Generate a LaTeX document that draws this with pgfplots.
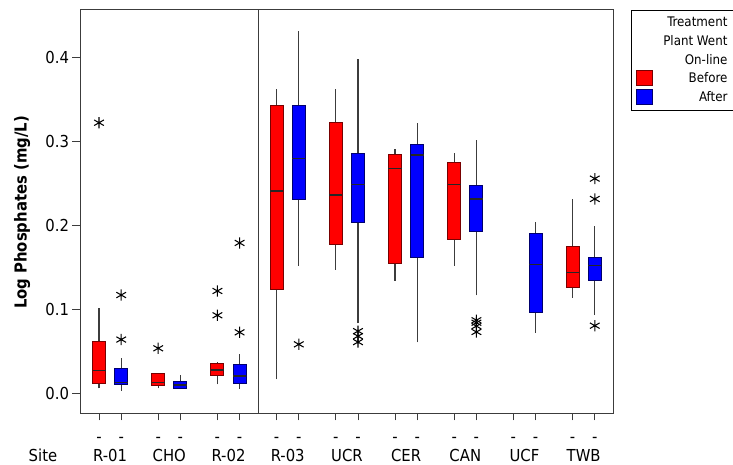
\documentclass[border=0pt]{standalone}
\usepackage{pgfplots}
\pgfplotsset{compat=1.18}
\usepackage{fontspec}
\setmainfont{DejaVu Sans Condensed}
\definecolor{redline}{RGB}{120,0,0}
\definecolor{blueline}{RGB}{0,0,110}
\definecolor{framec}{RGB}{60,60,60}
\pgfplotsset{
  whisk/.style={forget plot, no markers, draw=framec, line width=1.2bp},
  rbox/.style={forget plot, no markers, fill=red, draw=redline, line width=0.9bp},
  bbox/.style={forget plot, no markers, fill=blue, draw=blueline, line width=0.9bp},
  med/.style={forget plot, no markers, draw=black!85, line width=1.2bp},
  outl/.style={forget plot, only marks, mark=asterisk, mark size=5.6bp, mark options={black, line width=1.05bp}},
}
\begin{document}
\begin{tikzpicture}
\path[use as bounding box] (0bp,0bp) rectangle (733bp,465bp);
\begin{axis}[
  at={(80bp,52bp)}, anchor=south west,
  scale only axis, width=533bp, height=403.7bp,
  xmin=-2.57, xmax=69.46, ymin=-0.0234, ymax=0.457,
  axis line style={draw=framec, line width=1bp},
  tick align=outside, tick pos=left,
  major tick length=7.5bp,
  tick style={draw=framec, line width=1bp},
  /pgf/number format/assume math mode=true,
  ytick={0,0.1,0.2,0.3,0.4},
  yticklabel style={/pgf/number format/fixed, /pgf/number format/fixed zerofill,
    /pgf/number format/precision=1, font=\fontsize{16.5bp}{19bp}\selectfont},
  xtick={0,3,8,11,16,19,24,27,32,35,40,43,48,51,56,59,64,67},
  xticklabels={-,-,-,-,-,-,-,-,-,-,-,-,-,-,-,-,-,-},
  xticklabel style={anchor=center, yshift=-19bp, font=\fontsize{16.5bp}{19bp}\selectfont},
  extra x ticks={1.5,9.5,17.5,25.5,33.5,41.5,49.5,57.5,65.5},
  extra x tick labels={R-01,CHO,R-02,R-03,UCR,CER,CAN,UCF,TWB},
  extra x tick style={major tick length=0pt, tick style={draw=none},
    xticklabel style={anchor=base, yshift=-29.7bp}},
  ylabel={\bfseries Log Phosphates (mg/L)},
  ylabel style={at={(axis description cs:-0.1088,0.4966)}, anchor=center,
    font=\fontsize{16.5bp}{19bp}\selectfont},
  legend style={at={(axis description cs:1.0338,0.9983)}, anchor=north west,
    draw=black, line width=0.8bp, font=\fontsize{13.2bp}{15bp}\selectfont,
    row sep=3bp, column sep=8bp, inner xsep=4.5bp, inner ysep=5bp},
  legend cell align=right,
  clip=false,
]
\addlegendimage{empty legend}\addlegendentry{Treatment}
\addlegendimage{empty legend}\addlegendentry{Plant Went}
\addlegendimage{empty legend}\addlegendentry{On-line}
\addlegendimage{legend image code/.code={\draw[fill=red,draw=redline,line width=0.9bp] (0bp,-7.5bp) rectangle (16.5bp,7.5bp);}}\addlegendentry{Before}
\addlegendimage{legend image code/.code={\draw[fill=blue,draw=blueline,line width=0.9bp] (0bp,-7.5bp) rectangle (16.5bp,7.5bp);}}\addlegendentry{After}

\draw[draw=framec, line width=1bp] (axis cs:21.5,-0.0234) -- (axis cs:21.5,0.457);

% R-01 before (x=0)
\addplot[whisk] coordinates {(0,0.006) (0,0.101)};
\addplot[rbox] coordinates {(-0.88,0.0119) (0.88,0.0119) (0.88,0.0614) (-0.88,0.0614)} -- cycle;
\addplot[med] coordinates {(-0.88,0.0269) (0.88,0.0269)};
\addplot[outl] coordinates {(0,0.322)};
% R-01 after (x=3)
\addplot[whisk] coordinates {(3,0.003) (3,0.0425)};
\addplot[bbox] coordinates {(2.12,0.0107) (3.88,0.0107) (3.88,0.0298) (2.12,0.0298)} -- cycle;
\addplot[med] coordinates {(2.12,0.0125) (3.88,0.0125)};
\addplot[outl] coordinates {(3,0.117) (3,0.064)};
% CHO before (x=8)
\addplot[whisk] coordinates {(8,0.006) (8,0.0238)};
\addplot[rbox] coordinates {(7.12,0.009) (8.88,0.009) (8.88,0.0238) (7.12,0.0238)} -- cycle;
\addplot[med] coordinates {(7.12,0.0126) (8.88,0.0126)};
\addplot[outl] coordinates {(8,0.0536)};
% CHO after (x=11)
\addplot[whisk] coordinates {(11,0.005) (11,0.0222)};
\addplot[bbox] coordinates {(10.12,0.0055) (11.88,0.0055) (11.88,0.0142) (10.12,0.0142)} -- cycle;
\addplot[med] coordinates {(10.12,0.0099) (11.88,0.0099)};
% R-02 before (x=16)
\addplot[whisk] coordinates {(16,0.0107) (16,0.0376)};
\addplot[rbox] coordinates {(15.12,0.0214) (16.88,0.0214) (16.88,0.036) (15.12,0.036)} -- cycle;
\addplot[med] coordinates {(15.12,0.0277) (16.88,0.0277)};
\addplot[outl] coordinates {(16,0.1218) (16,0.0929)};
% R-02 after (x=19)
\addplot[whisk] coordinates {(19,0.0055) (19,0.0464)};
\addplot[bbox] coordinates {(18.12,0.0119) (19.88,0.0119) (19.88,0.0345) (18.12,0.0345)} -- cycle;
\addplot[med] coordinates {(18.12,0.0206) (19.88,0.0206)};
\addplot[outl] coordinates {(19,0.179) (19,0.0726)};
% R-03 before (x=24)
\addplot[whisk] coordinates {(24,0.0167) (24,0.362)};
\addplot[rbox] coordinates {(23.12,0.1233) (24.88,0.1233) (24.88,0.3424) (23.12,0.3424)} -- cycle;
\addplot[med] coordinates {(23.12,0.2408) (24.88,0.2408)};
% R-03 after (x=27)
\addplot[whisk] coordinates {(27,0.152) (27,0.4317)};
\addplot[bbox] coordinates {(26.12,0.231) (27.88,0.231) (27.88,0.342) (26.12,0.342)} -- cycle;
\addplot[med] coordinates {(26.12,0.279) (27.88,0.279)};
\addplot[outl] coordinates {(27,0.0583)};
% UCR before (x=32)
\addplot[whisk] coordinates {(32,0.1468) (32,0.362)};
\addplot[rbox] coordinates {(31.12,0.1774) (32.88,0.1774) (32.88,0.3218) (31.12,0.3218)} -- cycle;
\addplot[med] coordinates {(31.12,0.236) (32.88,0.236)};
% UCR after (x=35)
\addplot[whisk] coordinates {(35,0.0833) (35,0.3984)};
\addplot[bbox] coordinates {(34.12,0.2039) (35.88,0.2039) (35.88,0.2853) (34.12,0.2853)} -- cycle;
\addplot[med] coordinates {(34.12,0.2488) (35.88,0.2488)};
\addplot[outl] coordinates {(35,0.074) (35,0.068) (35,0.061)};
% CER before (x=40)
\addplot[whisk] coordinates {(40,0.134) (40,0.2908)};
\addplot[rbox] coordinates {(39.12,0.1548) (40.88,0.1548) (40.88,0.2837) (39.12,0.2837)} -- cycle;
\addplot[med] coordinates {(39.12,0.2679) (40.88,0.2679)};
% CER after (x=43)
\addplot[whisk] coordinates {(43,0.0607) (43,0.3222)};
\addplot[bbox] coordinates {(42.12,0.1614) (43.88,0.1614) (43.88,0.2964) (42.12,0.2964)} -- cycle;
\addplot[med] coordinates {(42.12,0.2837) (43.88,0.2837)};
% CAN before (x=48)
\addplot[whisk] coordinates {(48,0.152) (48,0.2857)};
\addplot[rbox] coordinates {(47.12,0.1837) (48.88,0.1837) (48.88,0.2742) (47.12,0.2742)} -- cycle;
\addplot[med] coordinates {(47.12,0.2488) (48.88,0.2488)};
% CAN after (x=51)
\addplot[whisk] coordinates {(51,0.1167) (51,0.3016)};
\addplot[bbox] coordinates {(50.12,0.1932) (51.88,0.1932) (51.88,0.2476) (50.12,0.2476)} -- cycle;
\addplot[med] coordinates {(50.12,0.2313) (51.88,0.2313)};
\addplot[outl] coordinates {(51,0.087) (51,0.084) (51,0.080) (51,0.073)};
% UCF after (x=59)
\addplot[whisk] coordinates {(59,0.0722) (59,0.2043)};
\addplot[bbox] coordinates {(58.12,0.0964) (59.88,0.0964) (59.88,0.1905) (58.12,0.1905)} -- cycle;
\addplot[med] coordinates {(58.12,0.1536) (59.88,0.1536)};
% TWB before (x=64)
\addplot[whisk] coordinates {(64,0.1138) (64,0.2313)};
\addplot[rbox] coordinates {(63.12,0.1262) (64.88,0.1262) (64.88,0.1746) (63.12,0.1746)} -- cycle;
\addplot[med] coordinates {(63.12,0.144) (64.88,0.144)};
% TWB after (x=67)
\addplot[whisk] coordinates {(67,0.0932) (67,0.1996)};
\addplot[bbox] coordinates {(66.12,0.1345) (67.88,0.1345) (67.88,0.162) (66.12,0.162)} -- cycle;
\addplot[med] coordinates {(66.12,0.152) (67.88,0.152)};
\addplot[outl] coordinates {(67,0.2555) (67,0.2313) (67,0.0805)};
\end{axis}
\node[anchor=base, font=\fontsize{16.5bp}{19bp}\selectfont] at (43bp,3.3bp) {Site};
\end{tikzpicture}
\end{document}
